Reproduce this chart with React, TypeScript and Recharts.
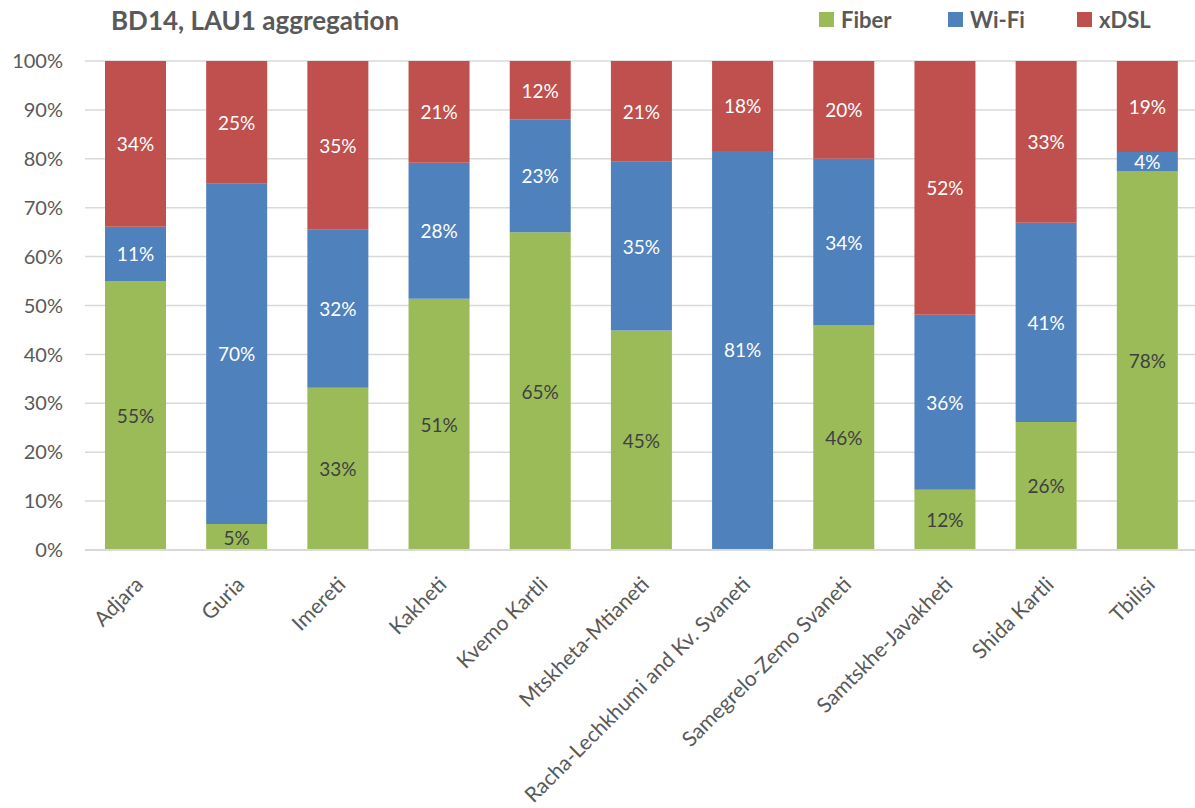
import React from "react";
import { BarChart, Bar, XAxis, YAxis, CartesianGrid, LabelList } from "recharts";

const regions = [
  "Adjara",
  "Guria",
  "Imereti",
  "Kakheti",
  "Kvemo Kartli",
  "Mtskheta-Mtianeti",
  "Racha-Lechkhumi and Kv. Svaneti",
  "Samegrelo-Zemo Svaneti",
  "Samtskhe-Javakheti",
  "Shida Kartli",
  "Tbilisi",
];
const fiber = [55.0, 5.3, 33.2, 51.4, 65.0, 44.9, 0.2, 45.9, 12.3, 26.2, 77.5];
const wifi = [11.1, 69.6, 32.3, 27.8, 23.1, 34.5, 81.4, 34.1, 35.8, 40.7, 3.9];
const xdsl = [33.9, 25.1, 34.5, 20.8, 11.9, 20.6, 18.4, 20.0, 51.9, 33.1, 18.6];
const yTicks = [0, 10, 20, 30, 40, 50, 60, 70, 80, 90, 100];

const FONT = "Lato, 'Open Sans', sans-serif";
const GREY = "#595959";
const SERIES = [
  { key: "Fiber", color: "#9BBB59", labelColor: "#404040" },
  { key: "Wi-Fi", color: "#4F81BD", labelColor: "#ffffff" },
  { key: "xDSL", color: "#C0504D", labelColor: "#ffffff" },
];

const data = regions.map((name, i) => ({
  name,
  Fiber: fiber[i],
  "Wi-Fi": wifi[i],
  xDSL: xdsl[i],
}));

function XTick(props: any) {
  const { x, y, payload } = props;
  const ax = x - 3;
  const ay = y + 16;
  return (
    <text
      x={ax}
      y={ay}
      transform={`rotate(-45, ${ax}, ${ay})`}
      textAnchor="end"
      dominantBaseline="hanging"
      fill={GREY}
      fontSize={21}
      fontFamily={FONT}
    >
      {payload.value}
    </text>
  );
}

function makeLabel(color: string) {
  return (props: any) => {
    const { x, y, width, height, value } = props;
    if (!value || value < 1) return null;
    return (
      <text
        x={x + width / 2}
        y={y + height / 2}
        textAnchor="middle"
        dominantBaseline="central"
        fill={color}
        fontSize={19}
        fontFamily={FONT}
      >
        {`${Math.round(value)}%`}
      </text>
    );
  };
}

export default function App() {
  return (
    <div style={{ position: "relative", width: 1195, height: 808, background: "#fff", overflow: "hidden" }}>
      <style>{`body{margin:0}`}</style>
      <div
        style={{
          position: "absolute",
          left: 111,
          top: 4,
          fontFamily: FONT,
          fontWeight: 700,
          fontSize: 26,
          color: GREY,
        }}
      >
        BD14, LAU1 aggregation
      </div>
      <div
        style={{
          position: "absolute",
          left: 819,
          top: 6,
          display: "flex",
          fontFamily: FONT,
          fontWeight: 700,
          fontSize: 22,
          color: GREY,
        }}
      >
        {SERIES.map((s) => (
          <div key={s.key} style={{ display: "flex", alignItems: "center", width: 129 }}>
            <span style={{ width: 15, height: 15, background: s.color, marginRight: 7 }} />
            <span>{s.key}</span>
          </div>
        ))}
      </div>
      <BarChart
        width={1198}
        height={808}
        data={data}
        margin={{ top: 61, right: 0, bottom: 0, left: 0 }}
        barSize={61}
      >
        <CartesianGrid vertical={false} stroke="#d9d9d9" strokeWidth={1.5} />
        <XAxis
          dataKey="name"
          interval={0}
          height={258}
          tickLine={false}
          axisLine={{ stroke: "#d9d9d9", strokeWidth: 2 }}
          tick={<XTick />}
        />
        <YAxis
          width={85}
          domain={[0, 100]}
          ticks={yTicks}
          tickFormatter={(v: number) => `${v}%`}
          tickLine={false}
          axisLine={false}
          tickMargin={16}
          tick={{ fill: GREY, fontSize: 20, fontFamily: FONT }}
        />
        {SERIES.map((s) => (
          <Bar key={s.key} dataKey={s.key} stackId="a" fill={s.color} isAnimationActive={false}>
            <LabelList dataKey={s.key} content={makeLabel(s.labelColor)} />
          </Bar>
        ))}
      </BarChart>
    </div>
  );
}
